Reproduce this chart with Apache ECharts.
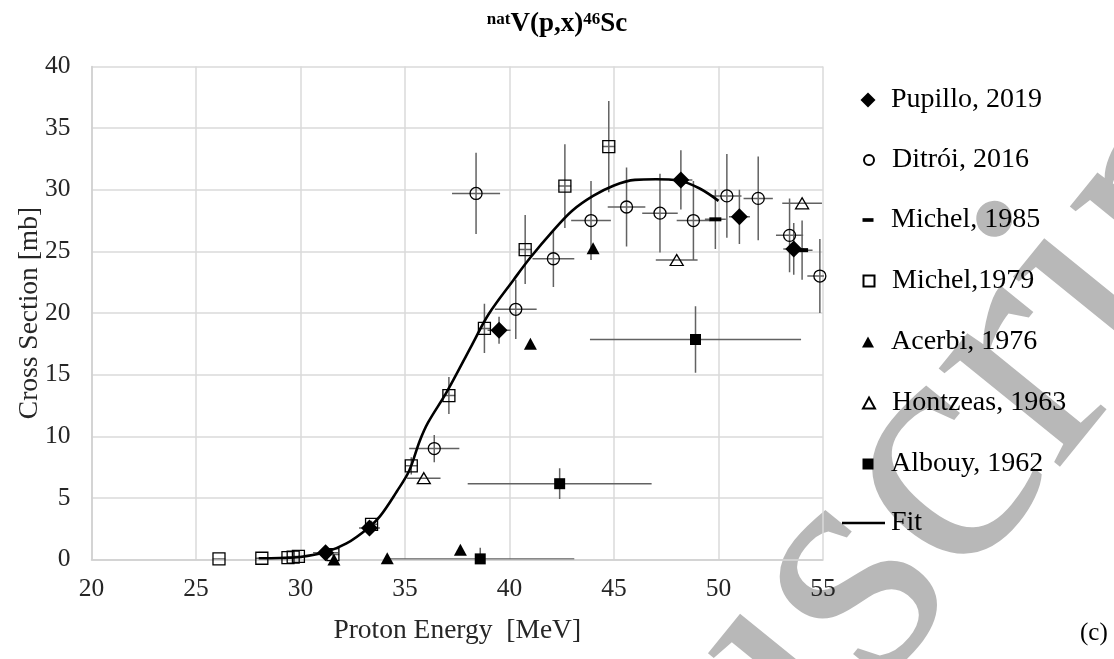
<!DOCTYPE html>
<html>
<head>
<meta charset="utf-8">
<script src="https://cdn.jsdelivr.net/npm/echarts@6/dist/echarts.min.js"></script>
<style>
  html, body { margin: 0; padding: 0; background: #fff; }
  #chart { width: 1114px; height: 659px; }
</style>
</head>
<body>
<div id="chart"></div>
<script>
// ---------------- DATA ----------------
const xTicks = [20, 25, 30, 35, 40, 45, 50, 55];
const yTicks = [0, 5, 10, 15, 20, 25, 30, 35, 40];

// Pupillo, 2019
const pupilloE   = [31.2, 33.3, 39.5, 48.2, 51.0, 53.6];
const pupilloXS  = [0.55, 2.55, 18.6, 30.8, 27.8, 25.2];
const pupilloDXS = [0.1, 0.3, 1.1, 2.4, 2.2, 2.1];
const pupilloDE  = [0.6, 0.5, 0.55, 0.55, 0.5, 0.5];

// Ditrói, 2016
const ditroiE   = [36.4, 38.4, 40.3, 42.1, 43.9, 45.6, 47.2, 48.8, 50.4, 51.9, 53.4, 54.85];
const ditroiXS  = [9.0, 29.7, 20.3, 24.4, 27.5, 28.6, 28.1, 27.5, 29.5, 29.3, 26.3, 23.0];
const ditroiDXS = [1.1, 3.3, 2.4, 2.3, 3.2, 3.2, 3.2, 3.2, 3.4, 3.4, 3.0, 3.0];
const ditroiDE  = [1.2, 1.15, 1.0, 1.0, 0.95, 0.9, 0.85, 0.8, 0.7, 0.7, 0.65, 0.6];

// Michel, 1985
const michel85E   = [49.85, 54.0];
const michel85XS  = [27.6, 25.1];
const michel85DXS = [2.4, 2.4];
const michel85DE  = [0.5, 0.5];

// Michel, 1979
const michel79E   = [26.1, 28.15, 29.4, 29.65, 29.9, 31.55, 33.4, 35.3, 37.1, 38.8, 40.75, 42.65, 44.75];
const michel79XS  = [0.05, 0.1, 0.15, 0.2, 0.25, 0.4, 2.85, 7.6, 13.3, 18.75, 25.15, 30.3, 33.5];
const michel79DXS = [0.01, 0.02, 0.03, 0.04, 0.05, 0.1, 0.3, 0.7, 1.5, 2.0, 2.8, 3.4, 3.7];
const michel79DE  = [0.3, 0.3, 0.3, 0.3, 0.3, 0.3, 0.3, 0.3, 0.3, 0.3, 0.3, 0.3, 0.3];

// Acerbi, 1976
const acerbiE  = [31.6, 34.15, 37.65, 41.0, 44.0];
const acerbiXS = [0.0, 0.1, 0.8, 17.5, 25.25];

// Hontzeas, 1963
const hontzeasE  = [35.9, 48.0, 54.0];
const hontzeasXS = [6.6, 24.3, 28.9];
const hontzeasDE = [0.8, 1.0, 0.95];

// Albouy, 1962
const albouyE   = [38.6, 42.4, 48.9];
const albouyXS  = [0.05, 6.15, 17.85];
const albouyDXS = [0.9, 1.25, 2.7];
const albouyDE  = [4.5, 4.4, 5.05];

// Fit
const fitE  = [28.0, 29.0, 30.0, 31.2, 32.2, 33.2, 33.8, 34.6, 35.2, 35.7, 36.1, 37.0, 38.2, 39.0, 40.2, 41.0, 42.1, 43.0, 44.0, 45.0, 46.0, 47.0, 48.1, 49.1, 50.0];
const fitXS = [0.1, 0.12, 0.2, 0.6, 1.3, 2.5, 3.5, 5.5, 7.2, 9.6, 11.1, 13.6, 17.4, 19.9, 22.7, 24.5, 26.7, 28.3, 29.5, 30.35, 30.8, 30.85, 30.75, 30.1, 29.1];

const seriesNames = ['Pupillo, 2019', 'Ditrói, 2016', 'Michel, 1985', 'Michel,1979', 'Acerbi, 1976', 'Hontzeas, 1963', 'Albouy, 1962'];

// ---------------- helpers ----------------
const SERIF = "'Liberation Serif', 'Times New Roman', serif";
function pts(xs, ys) { return xs.map((x, i) => [x, ys[i]]); }
function errRows(xs, ys, dy, dx) {
  return xs.map((x, i) => [x, ys[i], dy ? dy[i] : 0, dx ? dx[i] : 0]);
}
function errSeries(rows) {
  return {
    type: 'custom',
    clip: true,
    silent: true,
    z: 2,
    encode: { x: 0, y: 1 },
    data: rows,
    renderItem: function (params, api) {
      const x = api.value(0), y = api.value(1), dy = api.value(2), dx = api.value(3);
      const st = { stroke: '#626262', lineWidth: 1.5 };
      const ch = [];
      if (dy > 0) {
        const a = api.coord([x, y + dy]), b = api.coord([x, y - dy]);
        ch.push({ type: 'line', shape: { x1: a[0], y1: a[1], x2: b[0], y2: b[1] }, style: st });
      }
      if (dx > 0) {
        const a = api.coord([x - dx, y]), b = api.coord([x + dx, y]);
        ch.push({ type: 'line', shape: { x1: a[0], y1: a[1], x2: b[0], y2: b[1] }, style: st });
      }
      return { type: 'group', children: ch };
    }
  };
}
const openStyle = { color: 'rgba(0,0,0,0)', borderColor: '#000', borderWidth: 1.3, opacity: 1 };
const fillStyle = { color: '#000', opacity: 1 };
const dashPath = 'path://M0,0H12V4H0Z';

// legend layout (one small legend per entry so each icon keeps its own size)
const legendIcon = [[15, 15], [10, 10], [11, 4], [11, 11], [12, 11], [12, 11], [11, 11]];
const legendRowY = [100, 160, 220, 281, 342, 403, 464];
const LEG_FONT = 28, ICON_CX = 868, TEXT_X = 891;
const legends = seriesNames.map((n, i) => {
  const w = legendIcon[i][0], h = legendIcon[i][1];
  return {
    data: [n],
    orient: 'vertical',
    left: ICON_CX - w / 2,
    top: legendRowY[i] - LEG_FONT / 2,
    itemWidth: w, itemHeight: h,
    selectedMode: false,
    padding: 0,
    textStyle: { fontFamily: SERIF, fontSize: LEG_FONT, color: '#000', lineHeight: LEG_FONT, padding: [0, 0, 0, TEXT_X - (ICON_CX + w / 2) - 5] }
  };
});
legends.push({
  data: [{ name: 'Fit', icon: 'path://M0,0H43V2.5H0Z' }],
  orient: 'vertical',
  left: 842, top: 523 - LEG_FONT / 2,
  itemWidth: 43, itemHeight: 2.5,
  selectedMode: false,
  padding: 0,
  textStyle: { fontFamily: SERIF, fontSize: LEG_FONT, color: '#000', lineHeight: LEG_FONT, padding: [0, 0, 0, 1] }
});

const option = {
  animation: false,
  backgroundColor: '#ffffff',
  title: {
    left: 'center',
    top: 6,
    text: '{s|nat}{b|V(p,x)}{s|46}{b|Sc}',
    textStyle: {
      rich: {
        b: { fontFamily: SERIF, fontWeight: 'bold', fontSize: 27, color: '#000', verticalAlign: 'bottom' },
        s: { fontFamily: SERIF, fontWeight: 'bold', fontSize: 17, color: '#000', verticalAlign: 'top', padding: [0, 0, 10, 0] }
      }
    }
  },
  grid: { left: 91.5, right: 291, top: 66.5, bottom: 99.5, outerBoundsMode: 'none', containLabel: false },
  xAxis: {
    type: 'value', min: 20, max: 55, interval: 5,
    name: 'Proton Energy  [MeV]', nameLocation: 'middle', nameGap: 57, nameMoveOverlap: false,
    nameTextStyle: { fontFamily: SERIF, fontSize: 27.5, color: '#262626' },
    axisLine: { show: true, onZero: false, lineStyle: { color: '#cfcfcf', width: 1.5 } },
    axisTick: { show: false },
    axisLabel: { fontFamily: SERIF, fontSize: 25.5, color: '#262626', margin: 17 },
    splitLine: { show: true, lineStyle: { color: '#dadada', width: 1.5 } }
  },
  yAxis: {
    type: 'value', min: 0, max: 40, interval: 5,
    name: 'Cross Section [mb]', nameLocation: 'middle', nameGap: 48, nameRotate: 90, nameMoveOverlap: false,
    nameTextStyle: { fontFamily: SERIF, fontSize: 27.5, color: '#262626' },
    axisLine: { show: true, lineStyle: { color: '#cfcfcf', width: 1.5 } },
    axisTick: { show: false },
    axisLabel: { fontFamily: SERIF, fontSize: 25.5, color: '#262626', margin: 21 },
    splitLine: { show: true, lineStyle: { color: '#dadada', width: 1.5 } }
  },
  legend: legends,
  graphic: [
    {
      type: 'text', z: -10, silent: true,
      x: 701, y: 768, rotation: 0.89,
      style: { text: 'uscript', fontFamily: SERIF, fontSize: 340, fill: '#b8b8b8', align: 'left', verticalAlign: 'middle' }
    },
    {
      type: 'text', silent: true, x: 1080, y: 621,
      style: { text: '(c)', fontFamily: SERIF, fontSize: 25, fill: '#000' }
    }
  ],
  series: [
    errSeries(errRows(pupilloE, pupilloXS, pupilloDXS, pupilloDE)),
    errSeries(errRows(ditroiE, ditroiXS, ditroiDXS, ditroiDE)),
    errSeries(errRows(michel85E, michel85XS, michel85DXS, michel85DE)),
    errSeries(errRows(michel79E, michel79XS, michel79DXS, michel79DE)),
    errSeries(errRows(hontzeasE, hontzeasXS, null, hontzeasDE)),
    errSeries(errRows(albouyE, albouyXS, albouyDXS, albouyDE)),
    {
      name: 'Fit', type: 'line', smooth: 0.35, symbol: 'none', showSymbol: false, z: 3,
      data: pts(fitE, fitXS),
      lineStyle: { color: '#000', width: 2.6 },
      itemStyle: { color: '#000' }
    },
    { name: seriesNames[0], type: 'scatter', z: 5, symbol: 'diamond', symbolSize: 17, itemStyle: fillStyle, data: pts(pupilloE, pupilloXS) },
    { name: seriesNames[1], type: 'scatter', z: 5, symbol: 'circle', symbolSize: 12, itemStyle: openStyle, data: pts(ditroiE, ditroiXS) },
    { name: seriesNames[2], type: 'scatter', z: 5, symbol: dashPath, symbolSize: [12, 4], itemStyle: fillStyle, data: pts(michel85E, michel85XS) },
    { name: seriesNames[3], type: 'scatter', z: 5, symbol: 'rect', symbolSize: 12, itemStyle: openStyle, data: pts(michel79E, michel79XS) },
    { name: seriesNames[4], type: 'scatter', z: 5, symbol: 'triangle', symbolSize: [13, 12], itemStyle: fillStyle, data: pts(acerbiE, acerbiXS) },
    { name: seriesNames[5], type: 'scatter', z: 5, symbol: 'triangle', symbolSize: [13, 11], itemStyle: openStyle, data: pts(hontzeasE, hontzeasXS) },
    { name: seriesNames[6], type: 'scatter', z: 5, symbol: 'rect', symbolSize: 11, itemStyle: fillStyle, data: pts(albouyE, albouyXS) }
  ]
};

const chart = echarts.init(document.getElementById('chart'), null, { renderer: 'canvas' });
chart.setOption(option);
</script>
</body>
</html>
